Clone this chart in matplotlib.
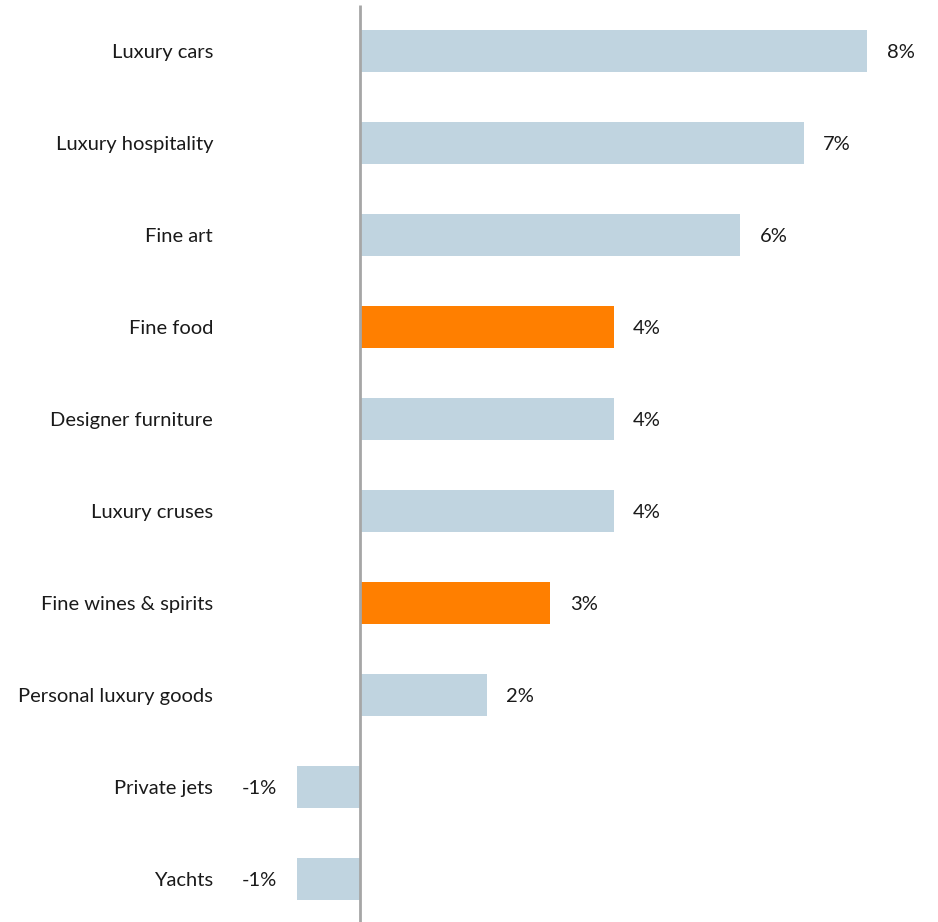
import matplotlib
matplotlib.use("Agg")
from matplotlib import pyplot as plt

categories = ["Luxury cars", "Luxury hospitality", "Fine art", "Fine food",
              "Designer furniture", "Luxury cruses", "Fine wines & spirits",
              "Personal luxury goods", "Private jets", "Yachts"]
values = [8, 7, 6, 4, 4, 4, 3, 2, -1, -1]
highlight = [False, False, False, True, False, False, True, False, False, False]

BLUE = "#c0d4e0"
ORANGE = "#ff7f00"

plt.rcParams['font.family'] = ['Lato', 'DejaVu Sans']

fig = plt.figure(figsize=(9.38, 9.22), dpi=100)
ax = fig.add_axes([0, 0, 1, 1])

px = 63.4  # pixels per percentage point
ax.set_xlim(-360 / px, (938 - 360) / px)
ax.set_ylim((922 - 51) / 92, -51 / 92)

colors = [ORANGE if h else BLUE for h in highlight]
ypos = list(range(len(categories)))
ax.barh(ypos, values, height=0.457, color=colors, zorder=1)

# zero line
ax.plot([0, 0], [-46 / 92, (922 - 51) / 92], color="#a6a6a6", lw=2, zorder=3,
        solid_capstyle="butt")

fs = 14.5
for y, cat, v in zip(ypos, categories, values):
    ty = y + 0.02
    ax.text((213 - 360) / px, ty, cat, ha="right", va="center", fontsize=fs,
            color="#1a1a1a")
    if v >= 0:
        ax.annotate(f"{v}%", (v, ty), xytext=(14, 0), textcoords="offset points",
                    ha="left", va="center", fontsize=fs, color="#1a1a1a")
    else:
        ax.annotate(f"{v}%", (v, ty), xytext=(-14, 0), textcoords="offset points",
                    ha="right", va="center", fontsize=fs, color="#1a1a1a")

ax.axis("off")
fig.savefig("out.png", dpi=100)
